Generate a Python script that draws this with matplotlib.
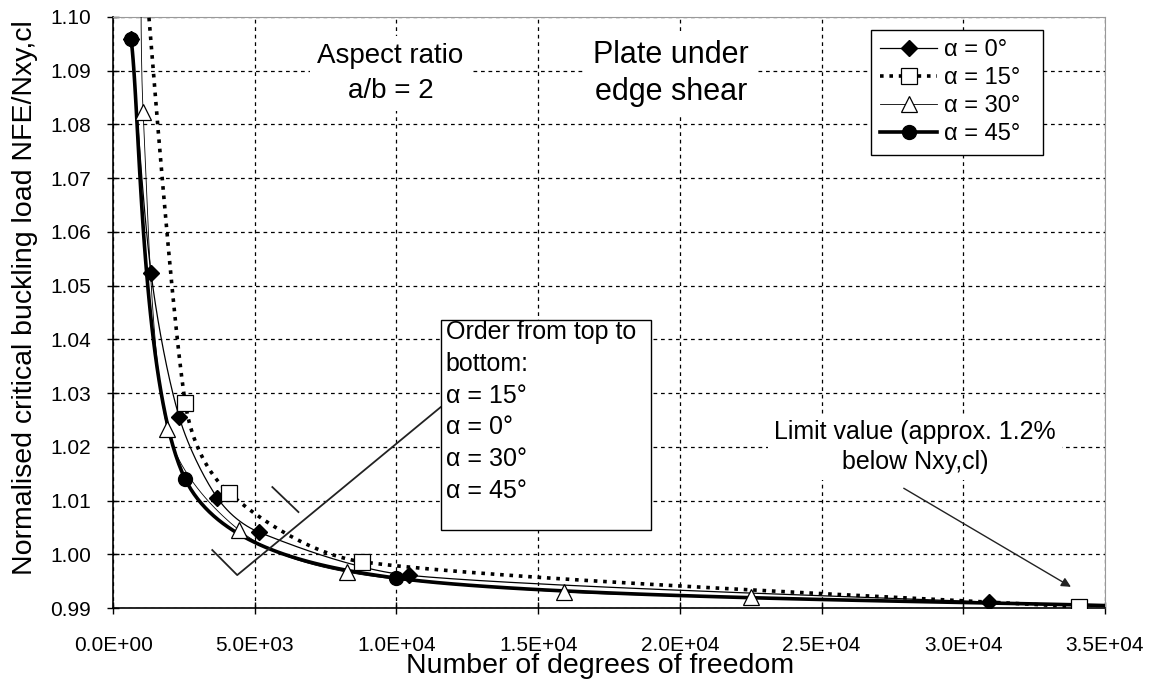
import numpy as np
import matplotlib.pyplot as plt
from matplotlib.ticker import MultipleLocator, FuncFormatter
from matplotlib.lines import Line2D
from matplotlib.patches import Rectangle

plt.rcParams['font.family'] = ['Liberation Sans', 'DejaVu Sans']

# values (x = degrees of freedom, y = NFE/Nxy,cl)
dof_0 = [640, 1340, 2330, 3680, 5160, 10430, 30920]
load_0 = [1.0959, 1.0523, 1.0256, 1.0105, 1.0041, 0.9961, 0.9911]

dof_15 = [950, 2545, 4100, 8800, 34100]
load_15 = [1.120, 1.0282, 1.0114, 0.9986, 0.9902]

dof_30 = [1000, 1060, 1910, 4450, 8240, 15900, 22510]
load_30 = [1.125, 1.0823, 1.0234, 1.0045, 0.9967, 0.9930, 0.9921]

dof_45 = [636, 2545, 9966, 36000]
load_45 = [1.0959, 1.0140, 0.9956, 0.9903]

XMAX, YMIN, YMAX = 35000, 0.99, 1.10
SX, SY = 992 / XMAX, 591 / (YMAX - YMIN)   # rough pixel scale, for smoothing


def smooth(x, y, n=40):
    # Excel-like smoothed line: bezier through the points, control arms capped
    P = np.column_stack([np.asarray(x) * SX, np.asarray(y) * SY])
    m = len(P)
    out = [P[:1]]
    s = np.linspace(0, 1, n)[1:, None]
    for i in range(m - 1):
        a, b = P[i], P[i + 1]
        d = np.linalg.norm(b - a)
        ta = b - (P[i - 1] if i > 0 else a)
        tb = (P[i + 2] if i + 2 < m else b) - a
        la, lb = np.linalg.norm(ta), np.linalg.norm(tb)
        ca = a + ta / la * min(la / 6, d / 3)
        cb = b - tb / lb * min(lb / 6, d / 3)
        out.append((1 - s)**3 * a + 3 * (1 - s)**2 * s * ca + 3 * (1 - s) * s**2 * cb + s**3 * b)
    Q = np.vstack(out)
    return Q[:, 0] / SX, Q[:, 1] / SY


fig = plt.figure(figsize=(11.54, 6.91), dpi=100)
ax = fig.add_axes([0.098, 0.120, 0.8595, 0.8554])

series = [
    (dof_0, load_0, dict(color='black', lw=0.9, ls='-'),
     dict(marker='D', ms=8, mfc='black', mec='black'), 'α = 0°  '),
    (dof_15, load_15, dict(color='black', lw=2.6, ls=(0, (1, 1.6))),
     dict(marker='s', ms=11, mfc='white', mec='black', mew=0.9), 'α = 15°  '),
    (dof_30, load_30, dict(color='black', lw=0.6, ls='-'),
     dict(marker='^', ms=11, mfc='white', mec='black', mew=0.9), 'α = 30°  '),
    (dof_45, load_45, dict(color='black', lw=2.6, ls='-'),
     dict(marker='o', ms=10, mfc='black', mec='black'), 'α = 45°  '),
]

handles = []
for x, y, lstyle, mstyle, lab in series:
    sx, sy = smooth(x, y)
    ax.plot(sx, sy, zorder=3, **lstyle)
    ax.plot(x, y, ls='none', zorder=4, **mstyle)
    handles.append(Line2D([], [], label=lab, **lstyle, **mstyle))

ax.set_xlim(0, XMAX)
ax.set_ylim(YMIN, YMAX)
ax.xaxis.set_major_locator(MultipleLocator(5000))
ax.yaxis.set_major_locator(MultipleLocator(0.01))
ax.xaxis.set_major_formatter(FuncFormatter(lambda v, p: f'{v:.1E}'))
ax.yaxis.set_major_formatter(FuncFormatter(lambda v, p: f'{v:.2f}'))
ax.tick_params(direction='inout', length=8, width=1, labelsize=15)
ax.tick_params(axis='x', pad=16)
ax.tick_params(axis='y', pad=12)
ax.grid(True, color='black', lw=0.9, ls=(0, (3, 3)))
for s in ['top', 'right']:
    ax.spines[s].set_color('#999999')
ax.spines['left'].set_linewidth(1.2)
ax.spines['bottom'].set_linewidth(1.2)

ax.set_xlabel('Number of degrees of freedom', fontsize=20.5)
ax.set_ylabel('Normalised critical buckling load NFE/Nxy,cl', fontsize=20.5)
ax.xaxis.set_label_coords(0.491, -0.076)
ax.yaxis.set_label_coords(-0.076, 0.526)

box = dict(boxstyle='square,pad=0.25', fc='white', ec='none')
ax.text(9790, 1.0895, 'Aspect ratio\na/b = 2', fontsize=20, ha='center', va='center',
        linespacing=1.46, bbox=box, zorder=5)
ax.text(19680, 1.0895, 'Plate under\nedge shear', fontsize=22, ha='center', va='center',
        linespacing=1.33, bbox=box, zorder=5)
ax.text(28300, 1.0200, 'Limit value (approx. 1.2%\nbelow Nxy,cl)', fontsize=18,
        ha='center', va='center', linespacing=1.29, bbox=box, zorder=5)
ax.annotate('', xy=(33800, 0.99395), xytext=(27900, 1.0123),
            arrowprops=dict(arrowstyle='-|>', color='#222222', lw=1.0,
                            mutation_scale=14, shrinkA=0, shrinkB=0), zorder=5)

ax.add_patch(Rectangle((11556, 1.00452), 18978 - 11556, 1.0436 - 1.00452,
                       fc='white', ec='black', lw=1.0, zorder=6))
ax.text(11730, 1.0436, 'Order from top to\nbottom:\nα = 15°\nα = 0°\nα = 30°\nα = 45°',
        fontsize=18, ha='left', va='top', linespacing=1.41, zorder=7)
# callout lines
ax.plot([3500, 4380, 11560], [1.0008, 0.99614, 1.0274], color='#222222', lw=1.3, zorder=5)
ax.plot([5620, 6540], [1.01252, 1.00787], color='#222222', lw=1.3, zorder=5)

leg = ax.legend(handles=handles, loc='upper right', bbox_to_anchor=(0.9375, 0.978),
                borderaxespad=0, fontsize=17, frameon=True, fancybox=False,
                framealpha=1, edgecolor='black', handlelength=2.4, handletextpad=0.3,
                borderpad=0.4, labelspacing=0.25)
leg.get_frame().set_linewidth(1.0)
leg.set_zorder(8)

fig.savefig('out.png', dpi=100)
